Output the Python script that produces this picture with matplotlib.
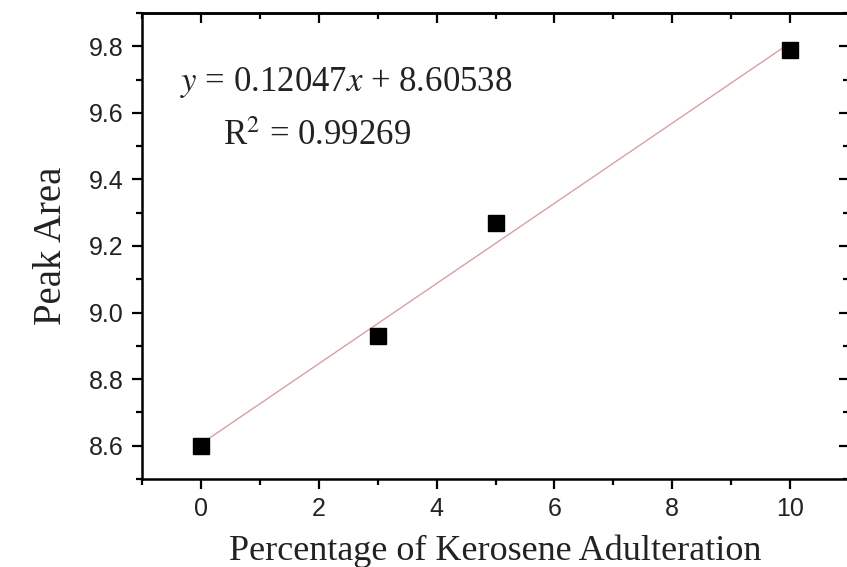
import numpy as np
import matplotlib.pyplot as plt
from matplotlib.ticker import MultipleLocator

# --- data ---
pct = [0, 3, 5, 10]
peak_area = [8.60, 8.93, 9.27, 9.79]
slope = 0.12047
intercept = 8.60538
r2 = 0.99269

plt.rcParams['mathtext.fontset'] = 'stix'

fig = plt.figure(figsize=(8.47, 5.67), dpi=100)
ax = fig.add_axes([142/847, 1 - 479/567, (849 - 142)/847, (479 - 13)/567])

xfit = np.array([min(pct), max(pct)])
ax.plot(xfit, slope*xfit + intercept, color='#d9a0a0', lw=1.0, zorder=1)
ax.plot(pct, peak_area, 's', color='black', ms=11, zorder=2)

ax.set_xlim(-1, 11)
ax.set_ylim(8.5, 9.9)

ax.xaxis.set_major_locator(MultipleLocator(2))
ax.xaxis.set_minor_locator(MultipleLocator(1))
ax.yaxis.set_major_locator(MultipleLocator(0.2))
ax.yaxis.set_minor_locator(MultipleLocator(0.1))
ax.yaxis.set_major_formatter(plt.FuncFormatter(lambda v, p: f'{v:.1f}'))
ax.tick_params(which='both', direction='out', width=1.6, pad=6,
               labelsize=18, labelfontfamily='Liberation Sans', labelcolor='#222222')
ax.tick_params(which='major', length=7)
ax.tick_params(which='minor', length=4)

# inward ticks on top and right, no labels
top = ax.secondary_xaxis('top')
top.xaxis.set_major_locator(MultipleLocator(2))
top.xaxis.set_minor_locator(MultipleLocator(1))
top.tick_params(which='both', direction='in', width=1.6, labeltop=False)
top.tick_params(which='major', length=7)
top.tick_params(which='minor', length=4)
right = ax.secondary_yaxis('right')
right.yaxis.set_major_locator(MultipleLocator(0.2))
right.yaxis.set_minor_locator(MultipleLocator(0.1))
right.tick_params(which='both', direction='in', width=1.6, labelright=False)
right.tick_params(which='major', length=7)
right.tick_params(which='minor', length=4)

for a in [ax, top, right]:
    for s in a.spines.values():
        s.set_linewidth(1.8)

ax.set_xlabel('Percentage of Kerosene Adulteration', family='Liberation Serif',
              fontsize=26, labelpad=10, color='#222222')
ax.set_ylabel('Peak Area', family='Liberation Serif', fontsize=28, labelpad=14,
              color='#222222')

ax.text(-0.35, 9.69, f'$y$ = {slope}$x$ + {intercept}', family='Liberation Serif',
        fontsize=25, va='center', color='#222222')
ax.text(0.37, 9.53, f'R$^2$ = {r2}', family='Liberation Serif', fontsize=25,
        va='center', color='#222222')

fig.savefig('out.png', dpi=100)
